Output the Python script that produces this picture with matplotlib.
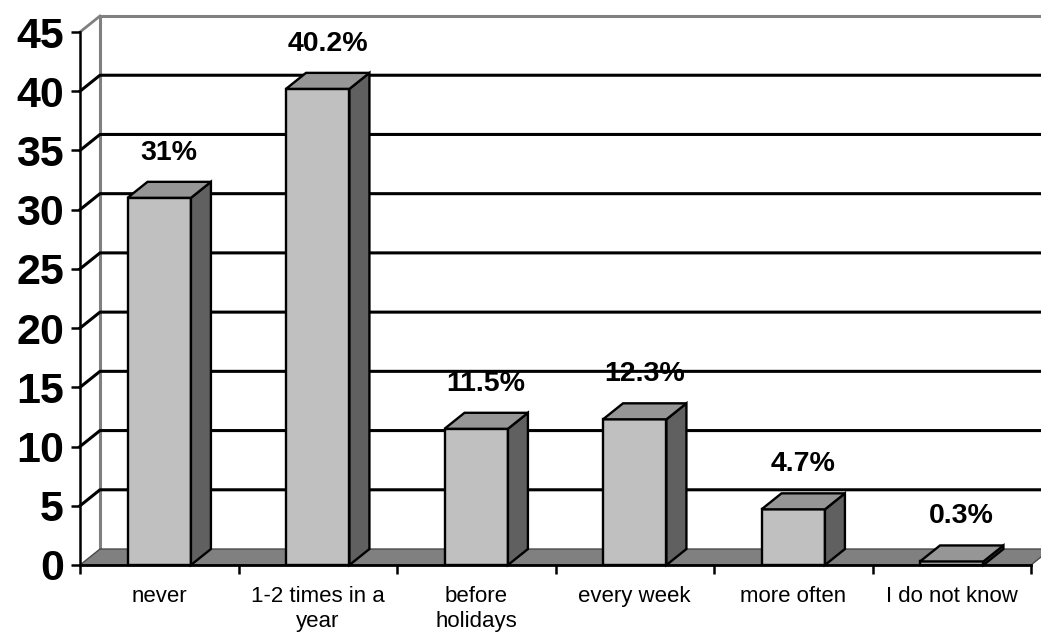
import matplotlib

matplotlib.use("Agg")
import matplotlib.pyplot as plt
from matplotlib.patches import Polygon

# Survey answers (share of respondents, %)
categories = [
    "never",
    "1-2 times in a\nyear",
    "before\nholidays",
    "every week",
    "more often",
    "I do not know",
]
shares = [31, 40.2, 11.5, 12.3, 4.7, 0.3]
share_labels = ["31%", "40.2%", "11.5%", "12.3%", "4.7%", "0.3%"]
y_ticks = [0, 5, 10, 15, 20, 25, 30, 35, 40, 45]

plt.rcParams["font.family"] = ["Liberation Sans", "DejaVu Sans"]

# pseudo-3D look: back wall shifted right/up by (DX, DY) in data units
DX, DY = 0.126, 1.35
BAR_W = 0.4
N = len(categories)
Y_MAX = y_ticks[-1]

fig = plt.figure(figsize=(10.41, 6.33), dpi=100)
ax = fig.add_axes([80 / 1041, 68 / 633, 951 / 1041, 533 / 633])
ax.set_xlim(0, N)
ax.set_ylim(0, Y_MAX)
ax.patch.set_visible(False)

# back wall: gray frame and black gridlines (left wall diagonals included)
ax.plot([DX, DX, N + DX], [DY, Y_MAX + DY, Y_MAX + DY],
        color="#808080", lw=2.2, clip_on=False, zorder=1)
ax.plot([0, DX], [Y_MAX, Y_MAX + DY], color="#808080", lw=2, clip_on=False, zorder=1)
for v in y_ticks[1:-1]:
    ax.plot([0, DX, N + DX], [v, v + DY, v + DY], color="black", lw=2.2,
            clip_on=False, zorder=1)

# floor
ax.add_patch(Polygon([(0, 0), (N, 0), (N + DX, DY), (DX, DY)], closed=True,
                     facecolor="#808080", edgecolor="#4a4a4a", lw=1,
                     clip_on=False, zorder=2))

# bars: front, right side and top faces
for i, v in enumerate(shares):
    x0 = i + 0.5 - BAR_W / 2
    x1 = x0 + BAR_W
    faces = [
        ([(x0, 0), (x1, 0), (x1, v), (x0, v)], "#c0c0c0"),
        ([(x1, 0), (x1 + DX, DY), (x1 + DX, v + DY), (x1, v)], "#606060"),
        ([(x0, v), (x1, v), (x1 + DX, v + DY), (x0 + DX, v + DY)], "#969696"),
    ]
    for pts, color in faces:
        ax.add_patch(Polygon(pts, closed=True, facecolor=color, edgecolor="black",
                             lw=1.7, joinstyle="miter", clip_on=False, zorder=3))
    ax.text(i + 0.5 + DX / 2, v + DY + 2.45, share_labels[i], ha="center",
            va="center", fontsize=20.5, fontweight="bold", zorder=5)

# axes lines and ticks
for side in ("top", "right"):
    ax.spines[side].set_visible(False)
ax.spines["left"].set_linewidth(1.8)
ax.spines["bottom"].set_linewidth(2)
for side in ("left", "bottom"):
    ax.spines[side].set_zorder(6)

ax.set_yticks(y_ticks)
ax.set_yticklabels([str(t) for t in y_ticks], fontsize=31, fontweight="bold")
ax.tick_params(axis="y", direction="out", length=6.5, width=1.8, pad=5)

ax.set_xticks(range(N + 1))
ax.set_xticklabels([])
ax.tick_params(axis="x", which="major", direction="out", length=6.5, width=1.8)
ax.set_xticks([i + 0.5 for i in range(N)], minor=True)
ax.set_xticklabels(categories, minor=True, fontsize=16, linespacing=1.25)
ax.tick_params(axis="x", which="minor", length=0, pad=15)

fig.savefig("out.png", dpi=100)
